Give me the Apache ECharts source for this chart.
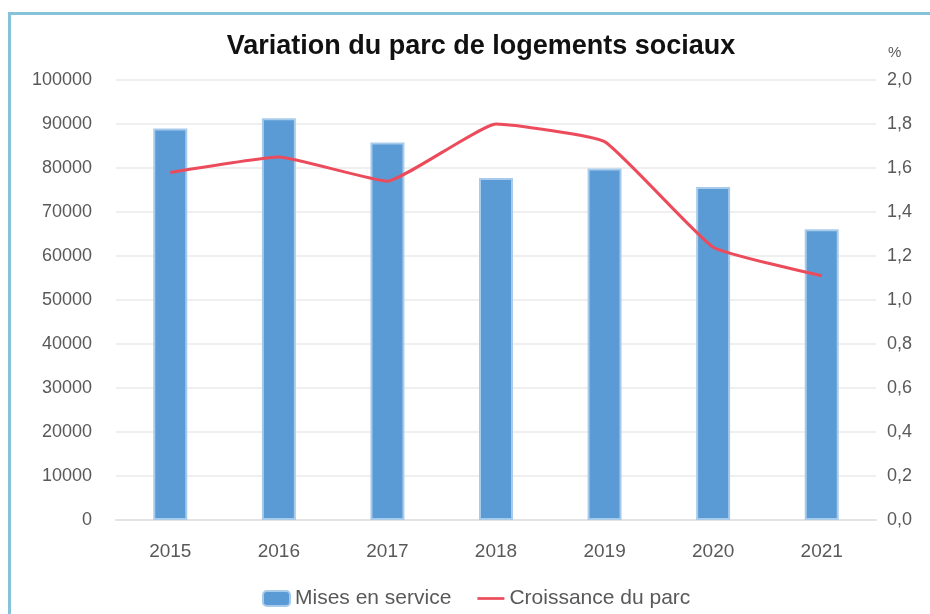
<!DOCTYPE html>
<html>
<head>
<meta charset="utf-8">
<script src="https://cdn.jsdelivr.net/npm/echarts@6/dist/echarts.min.js"></script>
<style>
    html, body { margin: 0; padding: 0; background: #fff; }
    #echartDiv { width: 930px; height: 614px; }
    #frame {
        position: absolute; left: 8px; top: 12px; width: 940px; height: 620px;
        border-left: 3px solid #86c3d8; border-top: 3px solid #86c3d8;
        pointer-events: none;
    }
</style>
</head>
<body>
<div id="echartDiv"></div>
<div id="frame"></div>
<script>
// données
const years = ['2015', '2016', '2017', '2018', '2019', '2020', '2021'];
const misesEnService = [89000, 91300, 85800, 77700, 79900, 75700, 66100];
const croissanceParc = [1.58, 1.65, 1.54, 1.80, 1.72, 1.24, 1.11];

const labelFont = 'Liberation Sans, Arial, sans-serif';

let option = {
    title: {
        text: 'Variation du parc de logements sociaux',
        left: 476,
        top: 28,
        textAlign: 'center',
        textStyle: { fontFamily: labelFont, fontSize: 27, fontWeight: 'bold', color: '#111' }
    },
    legend: {
        data: [
            'Mises en service',
            { name: 'Croissance du parc', icon: 'path://M0,0 L30,0 L30,3 L0,3 Z' }
        ],
        symbolKeepAspect: true,
        left: 257,
        top: 583,
        itemWidth: 27,
        itemHeight: 15,
        itemGap: 26,
        textStyle: { fontFamily: labelFont, fontSize: 21, color: '#595959' }
    },
    grid: {
        left: 116,
        right: 54,
        top: 80,
        bottom: 94
    },
    xAxis: [
        {
            type: 'category',
            data: years,
            axisTick: { show: false },
            axisLine: { lineStyle: { color: '#e3e3e3', width: 2 } },
            axisLabel: { margin: 22, fontFamily: labelFont, fontSize: 19, color: '#595959' }
        }
    ],
    yAxis: [
        {
            type: 'value',
            min: 0,
            max: 100000,
            interval: 10000,
            axisLabel: { margin: 24, fontFamily: labelFont, fontSize: 18, color: '#595959', formatter: v => String(v) },
            splitLine: { lineStyle: { color: '#efefef', width: 2 } }
        },
        {
            type: 'value',
            min: 0,
            max: 2,
            interval: 0.2,
            name: '%',
            nameGap: 20,
            nameTextStyle: { fontFamily: labelFont, fontSize: 15, color: '#595959', align: 'left', padding: [0, 0, 0, 12] },
            axisLabel: {
                margin: 11, fontFamily: labelFont, fontSize: 18, color: '#595959',
                formatter: v => v.toFixed(1).replace('.', ',')
            },
            splitLine: { show: false }
        }
    ],
    series: [
        {
            name: 'Mises en service',
            type: 'bar',
            barWidth: 34,
            itemStyle: { color: '#5b9bd5', borderColor: '#a9cbeb', borderWidth: 2 },
            data: misesEnService
        },
        {
            name: 'Croissance du parc',
            type: 'line',
            yAxisIndex: 1,
            smooth: 0.12,
            symbol: 'none',
            lineStyle: { color: '#ec4b5b', width: 3 },
            itemStyle: { color: '#ec4b5b' },
            data: croissanceParc
        }
    ]
};

const myChart = echarts.init(document.getElementById('echartDiv'));
myChart.setOption(option);
</script>
</body>
</html>
